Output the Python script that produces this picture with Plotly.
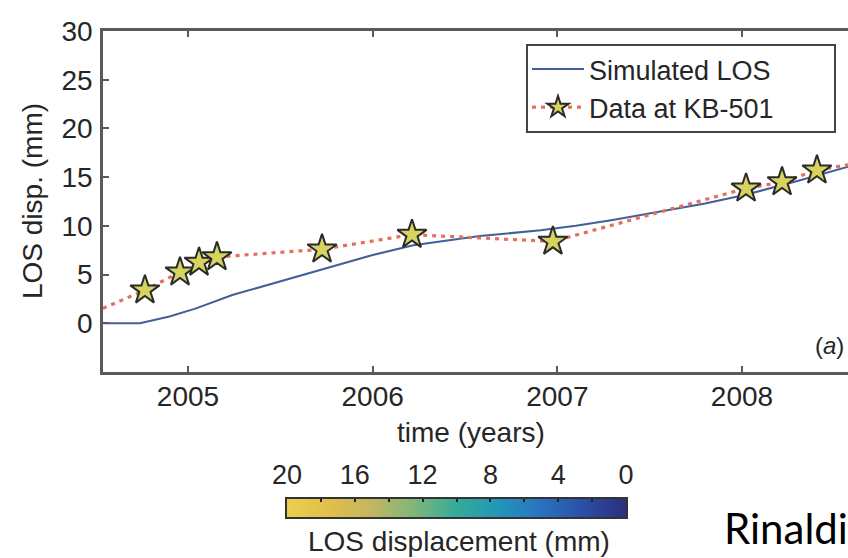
import numpy as np
import plotly.graph_objects as go

# ---- data ----
sim_years = [2004.50, 2004.74, 2004.90, 2005.04, 2005.24, 2005.50, 2005.78, 2006.00,
             2006.22, 2006.42, 2006.58, 2006.91, 2007.10, 2007.30, 2007.50, 2007.80,
             2008.02, 2008.30, 2008.60]
sim_los = [0.0, 0.0, 0.7, 1.5, 2.9, 4.3, 5.8, 7.0,
           8.0, 8.55, 8.95, 9.55, 10.0, 10.6, 11.3, 12.3,
           13.2, 14.6, 16.2]

obs_years = [2004.45, 2004.767, 2004.957, 2005.060, 2005.157, 2005.726, 2006.213,
             2006.976, 2008.022, 2008.217, 2008.406, 2008.70]
obs_los = [0.8, 3.4, 5.25, 6.25, 6.8, 7.6, 9.1, 8.4, 13.85, 14.5, 15.7, 16.7]

x_ticks = [2005, 2006, 2007, 2008]
y_ticks = [0, 5, 10, 15, 20, 25, 30]
cb_ticks = [0, 2, 4, 6, 8, 10, 12, 14, 16, 18, 20]
cb_ticktext = ["0", "", "4", "", "8", "", "12", "", "16", "", "20"]
cb_levels = np.linspace(0, 20, 161)

parula = [
    [0.0, "#2c2f7c"], [0.125, "#2b4ea6"], [0.25, "#2a72bf"], [0.375, "#2196b8"],
    [0.5, "#37aa9a"], [0.625, "#7fb67a"], [0.75, "#c2b760"], [0.875, "#e2be4a"],
    [1.0, "#e9d04f"],
]

W, H = 848, 558
TXT = "#262626"
FONT = "Liberation Sans, Arial, sans-serif"

fig = go.Figure()

fig.add_trace(go.Scatter(
    x=sim_years, y=sim_los, mode="lines", name="Simulated LOS",
    line=dict(color="#41609a", width=2),
))
fig.add_trace(go.Scatter(
    x=obs_years, y=obs_los, mode="lines+markers", name="Data at KB-501",
    line=dict(color="#e2705a", width=3.2, dash="4px,5px"),
    marker=dict(symbol="star", size=22, color="#d6d35e",
                line=dict(color="#2a2a2a", width=2)),
))

# colour scale bar drawn as a heatmap on its own axes
fig.add_trace(go.Heatmap(
    x=cb_levels, y=[0], z=[cb_levels], zmin=0, zmax=20,
    colorscale=parula, showscale=False, xaxis="x2", yaxis="y2",
    hoverinfo="skip",
))

axis_col = "#5a5a5a"
fig.update_layout(
    width=W, height=H,
    margin=dict(l=0, r=0, t=0, b=0),
    paper_bgcolor="white", plot_bgcolor="white",
    font=dict(family=FONT, size=28, color=TXT),
    showlegend=True,
    legend=dict(
        x=527 / W, y=(H - 45) / H, xanchor="left", yanchor="top",
        bgcolor="rgba(0,0,0,0)", borderwidth=0,
        font=dict(size=27, color=TXT, family=FONT),
        itemwidth=52, tracegroupgap=0,
    ),
    # legend frame (wider than the auto-sized box, as in the reference)
    shapes=[dict(
        type="rect", xref="paper", yref="paper", layer="above",
        x0=527 / W, x1=835 / W, y0=(H - 132) / H, y1=(H - 45) / H,
        line=dict(color="#444444", width=2), fillcolor="white",
    )],
    xaxis=dict(
        domain=[103 / W, 1.0], range=[2004.54, 2008.574], anchor="y",
        tickvals=x_ticks, ticktext=[str(v) for v in x_ticks],
        ticks="inside", ticklen=6, tickwidth=1.5, tickcolor=axis_col,
        showline=True, linecolor=axis_col, linewidth=2.5, mirror="ticks",
        showgrid=False, zeroline=False, automargin=False,
        ticklabelstandoff=-2,
        tickfont=dict(size=28, color=TXT, family=FONT),
    ),
    yaxis=dict(
        domain=[(H - 372) / H, (H - 31) / H], range=[-5, 30], anchor="x",
        tickvals=y_ticks, ticks="inside", ticklen=6, tickwidth=1.5,
        tickcolor=axis_col, showline=True, linecolor=axis_col, linewidth=2.5,
        mirror=False, showgrid=False, zeroline=False, automargin=False,
        ticklabelstandoff=2,
        tickfont=dict(size=28, color=TXT, family=FONT),
    ),
    xaxis2=dict(
        domain=[287 / W, 626 / W], range=[20, 0], anchor="y2", side="top",
        tickvals=cb_ticks, ticktext=cb_ticktext,
        ticks="inside", ticklen=3, tickwidth=1.5, tickcolor="#222222",
        showline=True, linecolor="#333333", linewidth=1.5, mirror=True,
        showgrid=False, zeroline=False, automargin=False,
        ticklabelstandoff=2,
        tickfont=dict(size=27, color=TXT, family=FONT),
    ),
    yaxis2=dict(
        domain=[(H - 517) / H, (H - 499) / H], range=[-0.5, 0.5], anchor="x2",
        showticklabels=False, ticks="", showline=True, linecolor="#333333",
        linewidth=1.5, mirror=True, showgrid=False, zeroline=False,
        automargin=False,
    ),
    annotations=[
        dict(text="LOS disp. (mm)", x=32 / W, y=(H - 201) / H, xref="paper",
             yref="paper", textangle=-90, showarrow=False, xanchor="center",
             yanchor="middle", font=dict(size=28, color=TXT, family=FONT)),
        dict(text="time (years)", x=471 / W, y=(H - 432) / H, xref="paper",
             yref="paper", showarrow=False, xanchor="center", yanchor="middle",
             font=dict(size=28, color=TXT, family=FONT)),
        dict(text="LOS displacement (mm)", x=459 / W, y=(H - 541) / H,
             xref="paper", yref="paper", showarrow=False, xanchor="center",
             yanchor="middle", font=dict(size=28, color=TXT, family=FONT)),
        dict(text="(<i>a</i>)", x=829 / W, y=(H - 345) / H, xref="paper",
             yref="paper", showarrow=False, xanchor="center", yanchor="middle",
             font=dict(size=24, color=TXT, family=FONT)),
        dict(text="Rinaldi", x=722 / W, y=(H - 528) / H, xref="paper",
             yref="paper", showarrow=False, xanchor="left", yanchor="middle",
             font=dict(size=42, color="#000000", family="Lato, sans-serif")),
    ],
)

fig.write_html(
    "out.html",
    config={"displayModeBar": False},
    post_script="document.body.style.margin='0';document.body.style.overflow='hidden';",
)
